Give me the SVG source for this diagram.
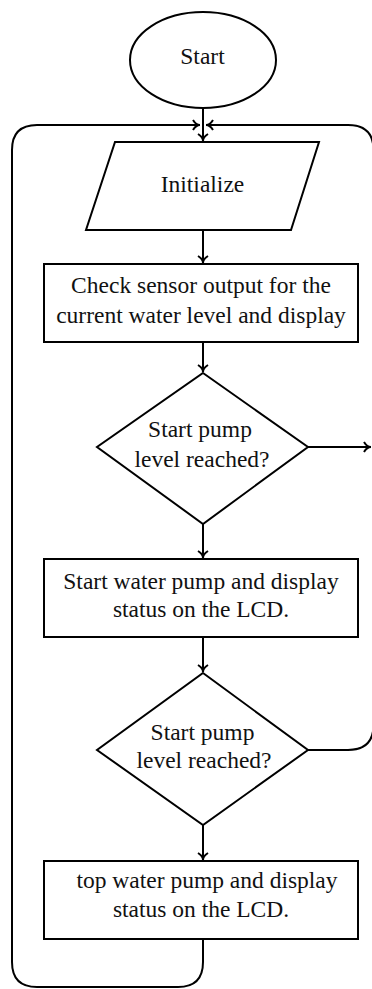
<svg xmlns="http://www.w3.org/2000/svg" width="372" height="989" viewBox="0 0 372 989">
<style>
.s{fill:#fff;stroke:#000;stroke-width:2}
.c{fill:none;stroke:#000;stroke-width:2}
.t{font-size:23.5px;fill:#111;text-anchor:middle}
</style>
<defs>
<marker id="ah" viewBox="-10 -7 12 14" refX="0" refY="0" markerWidth="12" markerHeight="14" orient="auto" markerUnits="userSpaceOnUse">
<path d="M-7,-5 Q-4,0 0,0 Q-4,0 -7,5" fill="none" stroke="#000" stroke-width="2"/>
</marker>
</defs>
<rect width="372" height="989" fill="#fff"/>
<g id="connectors">
<path class="c" d="M203,108 V141" marker-end="url(#ah)"/>
<path class="c" d="M203,940 V962 Q203,987 178,987 H37 Q12,987 12,962 V150 Q12,125 37,125 H200" marker-end="url(#ah)"/>
<path class="c" d="M308,750 H348 Q373.5,750 373.5,725 V150 Q373.5,125 348,125 H206" marker-end="url(#ah)"/>
<path class="c" d="M203,230 V263" marker-end="url(#ah)"/>
<path class="c" d="M203,342 V372" marker-end="url(#ah)"/>
<path class="c" d="M308,447 H371" marker-end="url(#ah)"/>
<path class="c" d="M203,524 V558" marker-end="url(#ah)"/>
<path class="c" d="M203,637 V672" marker-end="url(#ah)"/>
<path class="c" d="M203,825 V860" marker-end="url(#ah)"/>
</g>
<g font-family="Liberation Serif, DejaVu Serif, serif" class="t">
<g id="start">
<ellipse class="s" cx="203" cy="60" rx="73" ry="48"/>
<text class="t" x="202.5" y="64">Start</text>
</g>
<g id="initialize">
<polygon class="s" points="115,142 319,142 291,230 86,230"/>
<text class="t" x="202.5" y="192">Initialize</text>
</g>
<g id="check">
<rect class="s" x="44" y="264" width="314" height="78"/>
<text class="t" x="201" y="293">Check sensor output for the</text>
<text class="t" x="201" y="323">current water level and display</text>
</g>
<g id="decision1">
<polygon class="s" points="203,373 308,447 203,524 97,447"/>
<text class="t" x="200" y="437">Start pump</text>
<text class="t" x="202" y="467">level reached?</text>
</g>
<g id="startpump">
<rect class="s" x="44" y="559" width="314" height="78"/>
<text class="t" x="201" y="589">Start water pump and display</text>
<text class="t" x="201" y="617">status on the LCD.</text>
</g>
<g id="decision2">
<polygon class="s" points="203,673 308,750 203,825 97,750"/>
<text class="t" x="202.5" y="740">Start pump</text>
<text class="t" x="204" y="768">level reached?</text>
</g>
<g id="stoppump">
<rect class="s" x="44" y="861" width="314" height="78"/>
<text class="t" x="207" y="888">top water pump and display</text>
<text class="t" x="201" y="917">status on the LCD.</text>
</g>
</g>
</svg>
